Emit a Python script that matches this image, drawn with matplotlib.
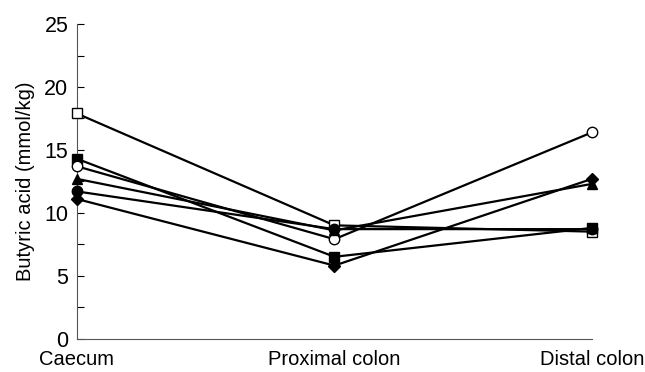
import matplotlib
matplotlib.use('Agg')
import matplotlib.pyplot as plt

plt.rcParams['font.family'] = ['Liberation Sans', 'DejaVu Sans']

# Sitios del intestino
sitios = ['Caecum', 'Proximal colon', 'Distal colon']

# Acido butirico (mmol/kg) por grupo
cuadrado_abierto = [17.9, 9.0, 8.5]
cuadrado_lleno = [14.3, 6.5, 8.8]
circulo_abierto = [13.7, 7.9, 16.4]
triangulo = [12.7, 8.6, 12.3]
circulo_lleno = [11.7, 8.7, 8.7]
rombo = [11.1, 5.8, 12.7]

series = [
    (cuadrado_abierto, 's', 'white'),
    (cuadrado_lleno, 's', 'black'),
    (circulo_abierto, 'o', 'white'),
    (triangulo, '^', 'black'),
    (circulo_lleno, 'o', 'black'),
    (rombo, 'D', 'black'),
]

fig = plt.figure(figsize=(6.45, 3.72), dpi=100)
ax = fig.add_axes([0.119, 0.09, 0.799, 0.845])

x = list(range(len(sitios)))
for valores, marcador, relleno in series:
    ms = 6 if marcador == 'D' else 7.5
    ax.plot(x, valores, color='black', lw=1.6, marker=marcador, ms=ms,
            mfc=relleno, mec='black', mew=1.0, clip_on=False, zorder=3)

ax.set_xlim(0, 2)
ax.set_ylim(0, 25)
ax.set_xticks(x)
ax.set_xticklabels(sitios, fontsize=14.5)
ax.set_yticks([0, 5, 10, 15, 20, 25])
ax.set_yticks([2.5, 7.5, 12.5, 17.5, 22.5], minor=True)
ax.tick_params(axis='y', direction='in', length=5, labelsize=15.5, width=0.8, pad=6)
ax.tick_params(axis='y', which='minor', direction='in', length=5, width=0.8)
ax.tick_params(axis='x', length=0, pad=8)
ax.set_ylabel('Butyric acid (mmol/kg)', fontsize=14.5, labelpad=7)

ax.spines['top'].set_visible(False)
ax.spines['right'].set_visible(False)
ax.spines['left'].set_color('#555555')
ax.spines['bottom'].set_color('#555555')

fig.savefig('out.png', dpi=100)
